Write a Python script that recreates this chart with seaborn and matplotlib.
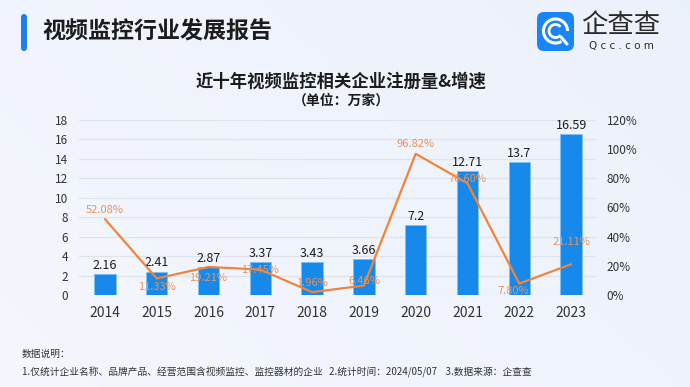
import numpy as np
import pandas as pd
import matplotlib
matplotlib.use("Agg")
import matplotlib.pyplot as plt
from matplotlib.patches import FancyBboxPatch, Arc
import seaborn as sns

years = ["2014", "2015", "2016", "2017", "2018", "2019", "2020", "2021", "2022", "2023"]
counts = [2.16, 2.41, 2.87, 3.37, 3.43, 3.66, 7.2, 12.71, 13.7, 16.59]
growth = [52.08, 11.33, 19.21, 17.45, 1.96, 6.46, 96.82, 76.60, 7.80, 21.11]
count_labels = ["2.16", "2.41", "2.87", "3.37", "3.43", "3.66", "7.2", "12.71", "13.7", "16.59"]
growth_labels = ["52.08%", "11.33%", "19.21%", "17.45%", "1.96%", "6.46%", "96.82%", "76.60%", "7.80%", "21.11%"]
left_ticks = [0, 2, 4, 6, 8, 10, 12, 14, 16, 18]
right_ticks = [0, 20, 40, 60, 80, 100, 120]

# label vertical offsets in pixels (positive = up)
growth_dy = [9, -9, -11, 0, 9, 5, 10, 4, -7, 22]
growth_dx = [0, 0, 0, 0, 0, 0, 0, 0, -6, 0]

sns.set_theme(style="white")
plt.rcParams['font.family'] = ['Noto Sans CJK SC', 'DejaVu Sans']

W, H = 690, 387
fig = plt.figure(figsize=(W / 100, H / 100), dpi=100)

# background gradient
bg = fig.add_axes([0, 0, 1, 1])
yy, xx = np.mgrid[0:1:100j, 0:1:180j]
c1 = np.array([0.965, 0.972, 0.992])
c2 = np.array([0.925, 0.945, 0.985])
t = np.clip(0.5 * xx + 0.5 * (1 - yy) * 0.6 + 0.2, 0, 1)[..., None]
img = c1 * (1 - t) + c2 * t
bg.imshow(img, aspect="auto", extent=[0, W, H, 0])
bg.set_xlim(0, W)
bg.set_ylim(H, 0)
bg.axis("off")

# header bar
bg.add_patch(FancyBboxPatch((21, 14), 6, 37, boxstyle="round,pad=0,rounding_size=3",
                            facecolor="#1f7ff0", edgecolor="none"))
bg.text(42, 32, "视频监控行业发展报告", fontsize=16.6, fontweight="bold", color="#1c1c1c",
        va="center", ha="left")

# logo
bg.add_patch(FancyBboxPatch((537, 12), 37, 39, boxstyle="round,pad=0,rounding_size=7",
                            facecolor="#1a86f5", edgecolor="none"))
bg.add_patch(Arc((555.5, 31), 24, 24, theta1=60, theta2=360, color="white", lw=2.2))
bg.add_patch(Arc((555.5, 31), 13, 13, theta1=40, theta2=320, color="white", lw=2.0))
bg.plot([561, 567], [37, 44], color="white", lw=2.2, solid_capstyle="round")
bg.text(621, 26, "企查查", fontsize=19, color="#2b2b2b", va="center", ha="center")
bg.text(621, 46, "Q c c . c o m", fontsize=7.5, color="#2b2b2b", va="center", ha="center",
        family="DejaVu Sans")

# chart titles
bg.text(341, 82, "近十年视频监控相关企业注册量&增速", fontsize=12.5, fontweight="bold",
        color="#1c1c1c", va="center", ha="center")
bg.text(341, 101, "（单位：万家）", fontsize=10, fontweight="bold",
        color="#1c1c1c", va="center", ha="center")

# footer
bg.text(22, 354, "数据说明：", fontsize=7, color="#333333", va="center", ha="left")
bg.text(22, 372, "1.仅统计企业名称、品牌产品、经营范围含视频监控、监控器材的企业   2.统计时间：2024/05/07    3.数据来源：企查查",
        fontsize=7, color="#333333", va="center", ha="left")

# main axes
x0, x1, ytop, ybot = 79, 597, 120, 295
ax = fig.add_axes([x0 / W, 1 - ybot / H, (x1 - x0) / W, (ybot - ytop) / H])
ax.patch.set_alpha(0)

df = pd.DataFrame({"year": years, "count": counts, "growth": growth})
sns.barplot(data=df, x="year", y="count", ax=ax, color="#1689ea", width=0.41,
            saturation=1, edgecolor="#7fc0f5", linewidth=0.6, zorder=2)
ax.set_xlim(-0.5, 9.5)
ax.set_ylim(0, 18)
ax.set_yticks(left_ticks)
ax.set_xlabel("")
ax.set_ylabel("")
ax.grid(axis="y", color="#dfe4ec", linewidth=0.9, zorder=0)
ax.set_axisbelow(True)
for s in ax.spines.values():
    s.set_visible(False)
ax.tick_params(axis="y", length=0, labelsize=8.5, labelcolor="#333333", pad=8)
ax.tick_params(axis="x", length=0, labelsize=10, labelcolor="#333333", pad=8)

for i, (v, lab) in enumerate(zip(counts, count_labels)):
    ax.annotate(lab, (i, v), xytext=(0, 1.5), textcoords="offset points",
                ha="center", va="bottom", fontsize=9, color="#1c1c1c", zorder=5)

ax2 = ax.twinx()
ax2.patch.set_alpha(0)
sns.lineplot(x=np.arange(len(years)), y=growth, ax=ax2, color="#f0843a", linewidth=1.6,
             zorder=3)
ax2.set_ylim(0, 120)
ax2.set_yticks(right_ticks)
ax2.set_yticklabels([f"{v}%" for v in right_ticks])
ax2.set_xlim(-0.5, 9.5)
for s in ax2.spines.values():
    s.set_visible(False)
ax2.tick_params(axis="y", length=0, labelsize=8.5, labelcolor="#333333", pad=7)
ax2.grid(False)

for i, (v, lab) in enumerate(zip(growth, growth_labels)):
    ax2.annotate(lab, (i, v), xytext=(growth_dx[i] * 0.72, growth_dy[i] * 0.72),
                 textcoords="offset points", ha="center", va="center",
                 fontsize=8, color="#e8935a", zorder=6)

fig.savefig("out.png", dpi=100)
